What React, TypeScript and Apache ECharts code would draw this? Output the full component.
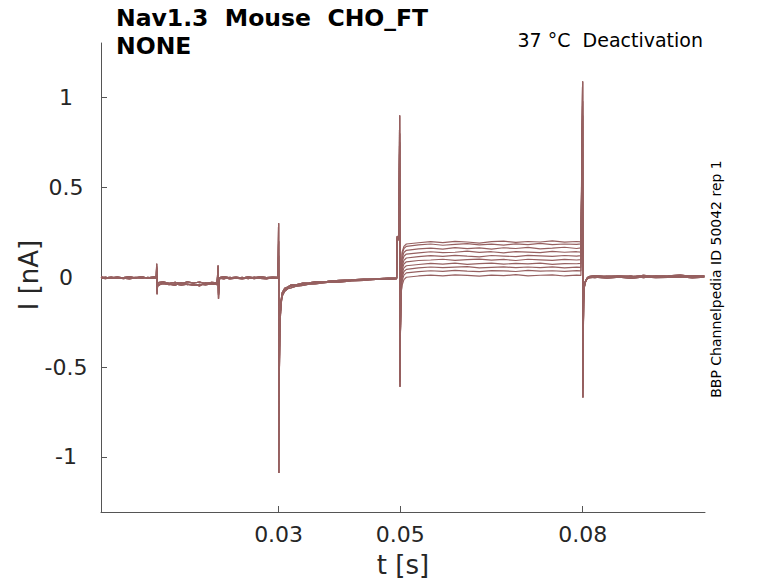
import { useEffect, useRef } from 'react';
import * as echarts from 'echarts';

type Pt = [number, number];

const TRACE_COLOR = '#966060';
const AXIS_COLOR = '#555555';
const TEXT_COLOR = '#262626';
const FONT = 'DejaVu Sans';

const titleLines = ['Nav1.3  Mouse  CHO_FT', 'NONE'];
const protocolLabel = '37 °C  Deactivation';
const sourceLabel = 'BBP Channelpedia ID 50042 rep 1';
const xName = 't [s]';
const yName = 'I [nA]';

const xTicks = [0.03, 0.05, 0.08];
const yTicks = [-1, -0.5, 0, 0.5, 1];
const xRange = [0.0008, 0.1001];
const yRange = [-1.307, 1.304];

// holding level before the first step (three noise variants, sweep i uses variant i % 3)
const seg1T = [0.0008, 0.0015, 0.0025, 0.0035, 0.0045, 0.0055, 0.0065, 0.0075, 0.0085, 0.0095, 0.0099];
const seg1A = [0.002, -0.004, 0.001, -0.006, -0.002, 0.003, -0.005, 0.0, -0.003, 0.002, -0.001];
const seg1B = [-0.006, 0.001, -0.007, -0.002, -0.008, -0.003, 0.0, -0.007, -0.001, -0.006, -0.004];
const seg1C = [-0.002, -0.008, -0.003, 0.002, -0.005, -0.009, -0.002, 0.003, -0.006, -0.002, -0.005];

const spike1A: Pt[] = [[0.00995, 0.075], [0.01002, -0.095], [0.0101, -0.04]];
const spike1B: Pt[] = [[0.00995, 0.05], [0.01002, -0.07], [0.0101, -0.045]];
const spike1C: Pt[] = [[0.00995, 0.06], [0.01002, -0.08], [0.0101, -0.05]];

const seg2T = [0.0102, 0.011, 0.012, 0.013, 0.014, 0.015, 0.016, 0.017, 0.018, 0.019, 0.0199];
const seg2A = [-0.03, -0.026, -0.034, -0.028, -0.036, -0.025, -0.032, -0.027, -0.035, -0.029, -0.031];
const seg2B = [-0.04, -0.036, -0.042, -0.037, -0.044, -0.038, -0.046, -0.039, -0.043, -0.036, -0.041];
const seg2C = [-0.047, -0.031, -0.039, -0.045, -0.03, -0.041, -0.038, -0.048, -0.031, -0.04, -0.036];

const spike2A: Pt[] = [[0.02005, 0.065], [0.02012, -0.12], [0.0202, -0.03]];
const spike2B: Pt[] = [[0.02005, 0.04], [0.02012, -0.09], [0.0202, -0.035]];
const spike2C: Pt[] = [[0.02005, 0.05], [0.02012, -0.1], [0.0202, -0.04]];

const seg3T = [0.0203, 0.021, 0.022, 0.023, 0.024, 0.025, 0.026, 0.027, 0.028, 0.029, 0.0299];
const seg3A = [-0.002, 0.003, -0.004, 0.001, -0.005, 0.002, -0.003, 0.004, -0.002, 0.001, -0.001];
const seg3B = [-0.008, -0.003, -0.009, -0.005, -0.01, -0.004, -0.008, -0.002, -0.007, -0.005, -0.006];
const seg3C = [-0.005, -0.009, 0.0, -0.007, -0.001, -0.008, 0.001, -0.006, -0.01, -0.003, -0.004];

const spike3A: Pt[] = [[0.03, 0.3], [0.03005, -1.09], [0.0301, -0.63], [0.03015, -0.42], [0.0302, -0.25], [0.0304, -0.13]];
const spike3B: Pt[] = [[0.03, 0.12], [0.03005, -0.85], [0.0301, -0.6], [0.03015, -0.45], [0.0302, -0.28], [0.0304, -0.15]];
const spike3C: Pt[] = [[0.03, 0.2], [0.03005, -0.7], [0.0301, -0.55], [0.03015, -0.4], [0.0302, -0.27], [0.0304, -0.14]];

// tail current after the 0.03 s step
const recT = [0.0306, 0.031, 0.0315, 0.032, 0.033, 0.034, 0.035, 0.036, 0.038, 0.04, 0.042, 0.044, 0.046, 0.048, 0.0494];
const recA = [-0.085, -0.062, -0.054, -0.044, -0.041, -0.033, -0.031, -0.026, -0.023, -0.017, -0.015, -0.01, -0.009, -0.005, -0.004];
const recB = [-0.105, -0.078, -0.064, -0.06, -0.049, -0.046, -0.039, -0.037, -0.029, -0.027, -0.02, -0.018, -0.012, -0.012, -0.009];
const recC = [-0.095, -0.07, -0.058, -0.05, -0.046, -0.038, -0.035, -0.031, -0.025, -0.022, -0.017, -0.014, -0.011, -0.008, -0.006];

const preStepA: Pt[] = [[0.04945, -0.004], [0.04948, 0.225], [0.04978, 0.23], [0.0499, 0.9], [0.04996, -0.61], [0.05002, -0.3], [0.0501, -0.1]];
const preStepB: Pt[] = [[0.04945, -0.009], [0.04948, 0.205], [0.04978, 0.21], [0.0499, 0.75], [0.04996, -0.55], [0.05002, -0.32], [0.0501, -0.12]];
const preStepC: Pt[] = [[0.04945, -0.006], [0.04948, 0.215], [0.04978, 0.22], [0.0499, 0.8], [0.04996, -0.58], [0.05002, -0.31], [0.0501, -0.11]];

// one row per sweep, top to bottom
const stepT = [0.0503, 0.0506, 0.051, 0.053, 0.055, 0.057, 0.059, 0.061, 0.063, 0.065, 0.067, 0.069, 0.071, 0.073, 0.075, 0.077, 0.079, 0.0797];
const stepValues = [
  [0.14, 0.172, 0.185, 0.192, 0.198, 0.193, 0.2, 0.196, 0.19, 0.198, 0.201, 0.194, 0.199, 0.196, 0.202, 0.195, 0.199, 0.197],
  [0.128, 0.16, 0.172, 0.18, 0.185, 0.178, 0.183, 0.187, 0.18, 0.184, 0.179, 0.186, 0.182, 0.188, 0.181, 0.185, 0.183, 0.186],
  [0.105, 0.138, 0.15, 0.158, 0.162, 0.156, 0.165, 0.159, 0.163, 0.157, 0.164, 0.16, 0.166, 0.158, 0.162, 0.167, 0.16, 0.163],
  [0.085, 0.117, 0.129, 0.136, 0.142, 0.137, 0.139, 0.145, 0.138, 0.142, 0.136, 0.143, 0.14, 0.137, 0.144, 0.139, 0.142, 0.14],
  [0.06, 0.094, 0.107, 0.115, 0.12, 0.116, 0.122, 0.117, 0.113, 0.121, 0.118, 0.115, 0.122, 0.119, 0.116, 0.121, 0.118, 0.12],
  [0.04, 0.074, 0.086, 0.093, 0.096, 0.1, 0.094, 0.098, 0.101, 0.095, 0.099, 0.093, 0.1, 0.097, 0.094, 0.099, 0.096, 0.098],
  [0.02, 0.052, 0.064, 0.071, 0.077, 0.073, 0.078, 0.072, 0.076, 0.079, 0.073, 0.077, 0.074, 0.078, 0.072, 0.076, 0.075, 0.077],
  [0.0, 0.032, 0.044, 0.052, 0.057, 0.053, 0.056, 0.059, 0.052, 0.055, 0.058, 0.053, 0.057, 0.054, 0.058, 0.052, 0.056, 0.055],
  [-0.02, 0.012, 0.024, 0.031, 0.036, 0.033, 0.038, 0.034, 0.031, 0.037, 0.035, 0.032, 0.038, 0.034, 0.036, 0.033, 0.037, 0.035],
  [-0.045, -0.013, 0.0, 0.007, 0.012, 0.008, 0.013, 0.01, 0.006, 0.012, 0.009, 0.014, 0.008, 0.011, 0.013, 0.007, 0.012, 0.01],
];

const spike5A: Pt[] = [[0.07998, 1.09], [0.08003, -0.67], [0.08008, -0.35], [0.08014, -0.13], [0.0802, -0.06], [0.0804, -0.025], [0.0807, -0.005]];
const spike5B: Pt[] = [[0.07998, 0.9], [0.08003, -0.58], [0.08008, -0.38], [0.08014, -0.15], [0.0802, -0.07], [0.0804, -0.03], [0.0807, -0.01]];
const spike5C: Pt[] = [[0.07998, 0.98], [0.08003, -0.62], [0.08008, -0.36], [0.08014, -0.14], [0.0802, -0.065], [0.0804, -0.028], [0.0807, -0.008]];

const postT = [0.081, 0.082, 0.084, 0.086, 0.088, 0.09, 0.092, 0.094, 0.096, 0.098, 0.1];
const postA = [0.004, 0.009, 0.003, 0.008, 0.002, 0.01, 0.004, 0.007, 0.012, 0.005, 0.008];
const postB = [-0.004, 0.001, -0.005, 0.0, -0.006, 0.002, -0.003, -0.001, 0.003, -0.004, 0.0];
const postC = [0.001, -0.003, 0.006, 0.002, 0.007, -0.002, 0.008, 0.003, 0.0, 0.009, 0.004];

const seg1 = [seg1A, seg1B, seg1C];
const spike1 = [spike1A, spike1B, spike1C];
const seg2 = [seg2A, seg2B, seg2C];
const spike2 = [spike2A, spike2B, spike2C];
const seg3 = [seg3A, seg3B, seg3C];
const spike3 = [spike3A, spike3B, spike3C];
const rec = [recA, recB, recC];
const preStep = [preStepA, preStepB, preStepC];
const spike5 = [spike5A, spike5B, spike5C];
const post = [postA, postB, postC];

const zip = (ts: number[], vs: number[]): Pt[] => ts.map((t, k) => [t, vs[k]]);

function buildSweep(i: number): Pt[] {
  const v = i % 3;
  return [
    ...zip(seg1T, seg1[v]),
    ...spike1[v],
    ...zip(seg2T, seg2[v]),
    ...spike2[v],
    ...zip(seg3T, seg3[v]),
    ...spike3[v],
    ...zip(recT, rec[v]),
    ...preStep[v],
    ...zip(stepT, stepValues[i]),
    ...spike5[v],
    ...zip(postT, post[v]),
  ];
}

export default function App() {
  const ref = useRef<HTMLDivElement>(null);

  useEffect(() => {
    if (!ref.current) return;
    const chart = echarts.init(ref.current, undefined, { renderer: 'svg' });

    chart.setOption({
      animation: false,
      backgroundColor: '#ffffff',
      grid: { left: 101, top: 43, width: 604, height: 469 },
      xAxis: {
        type: 'value',
        min: xRange[0],
        max: xRange[1],
        axisLine: { onZero: false, lineStyle: { color: AXIS_COLOR, width: 1 } },
        axisTick: { inside: true, length: 6, customValues: xTicks, lineStyle: { color: AXIS_COLOR } },
        axisLabel: {
          customValues: xTicks,
          color: TEXT_COLOR,
          fontSize: 22,
          fontFamily: FONT,
          margin: 11,
        },
        splitLine: { show: false },
      },
      yAxis: {
        type: 'value',
        min: yRange[0],
        max: yRange[1],
        axisLine: { show: true, onZero: false, lineStyle: { color: AXIS_COLOR, width: 1 } },
        axisTick: { show: true, inside: true, length: 6, customValues: yTicks, lineStyle: { color: AXIS_COLOR } },
        axisLabel: {
          customValues: yTicks,
          color: TEXT_COLOR,
          fontSize: 22,
          fontFamily: FONT,
          align: 'center',
          margin: 35,
        },
        splitLine: { show: false },
      },
      graphic: [
        {
          type: 'text',
          left: 116,
          top: 6,
          style: { text: titleLines[0], fontSize: 23.5, fontWeight: 'bold', fontFamily: FONT, fill: '#000' },
        },
        {
          type: 'text',
          left: 116,
          top: 34,
          style: { text: titleLines[1], fontSize: 23.5, fontWeight: 'bold', fontFamily: FONT, fill: '#000' },
        },
        {
          type: 'text',
          x: 703,
          y: 40,
          style: { text: protocolLabel, fontSize: 19, fontFamily: FONT, fill: '#000', align: 'right', verticalAlign: 'middle' },
        },
        {
          type: 'text',
          x: 716,
          y: 279,
          rotation: Math.PI / 2,
          style: { text: sourceLabel, fontSize: 14, fontFamily: FONT, fill: '#000', align: 'center', verticalAlign: 'middle' },
        },
        {
          type: 'text',
          x: 403,
          y: 565,
          style: { text: xName, fontSize: 26, fontFamily: FONT, fill: TEXT_COLOR, align: 'center', verticalAlign: 'middle' },
        },
        {
          type: 'text',
          x: 29,
          y: 275,
          rotation: Math.PI / 2,
          style: { text: yName, fontSize: 26, fontFamily: FONT, fill: TEXT_COLOR, align: 'center', verticalAlign: 'middle' },
        },
      ],
      series: stepValues.map((_, i) => ({
        type: 'line',
        data: buildSweep(i),
        showSymbol: false,
        symbol: 'none',
        silent: true,
        lineStyle: { color: TRACE_COLOR, width: 1.2 },
        itemStyle: { color: TRACE_COLOR },
      })),
    });

    return () => {
      chart.dispose();
    };
  }, []);

  return (
    <div
      ref={ref}
      style={{ position: 'fixed', left: 0, top: 0, width: 778, height: 583, background: '#fff' }}
    />
  );
}
